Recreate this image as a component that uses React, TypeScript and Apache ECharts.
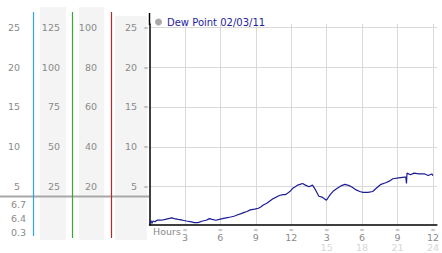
import React, { useEffect, useRef } from "react";
import * as echarts from "echarts";

// ---- data ----
const seriesName = "Dew Point 02/03/11";
const hours = [
  0.0, 0.1, 0.2, 0.3, 0.45, 0.64, 1.0, 1.33, 1.6, 1.89, 2.1, 2.43, 2.8, 3.13, 3.55, 3.8, 4.1, 4.5, 4.8,
  5.07, 5.3, 5.62, 5.9, 6.17, 6.5, 6.87, 7.15, 7.42, 7.7, 7.97, 8.25, 8.53, 8.9, 9.22, 9.45, 9.63, 9.9,
  10.19, 10.45, 10.74, 11.0, 11.3, 11.5, 11.71, 11.95, 12.13, 12.35, 12.54, 12.75, 12.96, 13.2, 13.5,
  13.8, 14.06, 14.34, 14.6, 14.8, 14.98, 15.3, 15.6, 15.9, 16.2, 16.55, 16.97, 17.2, 17.5, 17.8, 18.08,
  18.5, 18.9, 19.2, 19.6, 20.0, 20.3, 20.6, 21.1, 21.6, 21.7, 21.76, 21.8, 22.1, 22.4, 22.8, 23.3, 23.6,
  23.9, 24.0,
];
const dew = [
  0.3, 0.8, 0.4, 0.7, 0.6, 0.8, 0.8, 0.9, 1.0, 1.1, 1.0, 0.9, 0.8, 0.7, 0.6, 0.5, 0.5, 0.7, 0.8,
  1.0, 0.9, 0.8, 0.9, 1.0, 1.1, 1.2, 1.3, 1.45, 1.6, 1.75, 1.9, 2.1, 2.2, 2.3, 2.5, 2.7, 2.9,
  3.2, 3.5, 3.7, 3.9, 4.0, 4.0, 4.2, 4.5, 4.8, 5.0, 5.2, 5.3, 5.4, 5.2, 5.0,
  5.2, 4.6, 3.8, 3.7, 3.5, 3.3, 4.0, 4.5, 4.8, 5.1, 5.3, 5.1, 4.9, 4.6, 4.4, 4.3,
  4.3, 4.4, 4.8, 5.3, 5.5, 5.7, 6.0, 6.1, 6.2, 6.2, 5.4, 6.7, 6.5, 6.7, 6.6, 6.6, 6.4,
  6.6, 6.4,
];
const yTicks = [5, 10, 15, 20, 25];
const col1Labels = ["5", "10", "15", "20", "25"];
const col2Labels = ["25", "50", "75", "100", "125"];
const col3Labels = ["20", "40", "60", "80", "100"];
const col4Labels = ["5", "10", "15", "20", "25"];
const xTicks = [3, 6, 9, 12, 15, 18, 21, 24];
const xTopLabels = ["3", "6", "9", "12", "3", "6", "9", "12"];
const xBottomLabels = ["", "", "", "", "15", "18", "21", "24"];
const stats = ["6.7", "6.4", "0.3"];
const hoursLabel = "Hours";
const mark = "≈";

const FONT = "DejaVu Sans";
const LABEL_COLOR = "#8a8a8a";
const GRID_COLOR = "#d9d9d9";

function labelAxis(offset: number, labels: string[], margin = 0) {
  return {
    type: "value",
    position: "left",
    offset,
    min: 0.2,
    max: 25.4,
    axisLine: { show: false },
    axisTick: { show: false },
    splitLine: { show: false },
    axisLabel: {
      customValues: yTicks,
      margin,
      color: LABEL_COLOR,
      fontSize: 9.5,
      fontFamily: FONT,
      formatter: (v: number) => {
        const i = yTicks.indexOf(Math.round(v));
        return i >= 0 ? labels[i] : "";
      },
    },
  };
}

export default function App() {
  const ref = useRef<HTMLDivElement>(null);
  useEffect(() => {
    if (!ref.current) return;
    const chart = echarts.init(ref.current, undefined, { renderer: "svg" });
    const data = hours.map((h, i) => [h, dew[i]]);
    const option: any = {
      animation: false,
      backgroundColor: "#ffffff",
      textStyle: { fontFamily: FONT },
      grid: { left: 149.5, right: 0, top: 24, bottom: 28, containLabel: false },
      legend: {
        left: 155,
        top: 17,
        padding: 0,
        icon: "circle",
        itemWidth: 7,
        itemHeight: 7,
        itemGap: 4,
        selectedMode: false,
        itemStyle: { color: "#aaaaaa" },
        textStyle: { color: "#1e1e9c", fontSize: 10, fontFamily: FONT },
        data: [seriesName],
      },
      xAxis: {
        type: "value",
        min: 0,
        max: 24.333,
        axisLine: { show: true, lineStyle: { color: "#000", width: 1.5 } },
        axisTick: { show: false, customValues: xTicks },
        splitLine: { show: true, lineStyle: { color: GRID_COLOR, width: 1 } },
        axisLabel: {
          customValues: xTicks,
          margin: 1,
          fontFamily: FONT,
          formatter: (v: number) => {
            const i = xTicks.indexOf(Math.round(v));
            if (i < 0) return "";
            const b = xBottomLabels[i];
            return `{m|${mark}}\n{a|${xTopLabels[i]}}` + (b ? `\n{b|${b}}` : "");
          },
          rich: {
            m: { fontSize: 6, lineHeight: 6, color: "#9a9a9a", fontFamily: FONT },
            a: { fontSize: 9.5, lineHeight: 10, color: LABEL_COLOR, fontFamily: FONT },
            b: { fontSize: 9.5, lineHeight: 10, color: "#d6d6d6", fontFamily: FONT },
          },
        },
      },
      yAxis: [
        {
          type: "value",
          position: "left",
          min: 0.2,
          max: 25.4,
          axisLine: { show: true, lineStyle: { color: "#000", width: 1.5 } },
          axisTick: { show: false, customValues: yTicks },
          splitLine: { show: true, lineStyle: { color: GRID_COLOR, width: 1 } },
          axisLabel: {
            customValues: yTicks,
            margin: 12.5,
            color: LABEL_COLOR,
            fontSize: 9.5,
            fontFamily: FONT,
            formatter: (v: number) => {
              const i = yTicks.indexOf(Math.round(v));
              return i >= 0 ? col4Labels[i] : "";
            },
          },
        },
        {
          ...labelAxis(0, yTicks.map(() => mark), 1),
          axisLabel: {
            customValues: yTicks,
            margin: 1,
            color: "#9a9a9a",
            fontSize: 6,
            fontFamily: FONT,
            formatter: () => mark,
          },
        },
        labelAxis(52.5, col3Labels),
        labelAxis(89.5, col2Labels),
        labelAxis(129.5, col1Labels),
      ],
      series: [
        {
          name: seriesName,
          type: "line",
          data,
          showSymbol: false,
          symbol: "none",
          lineStyle: { color: "#1c1c96", width: 1.2 },
          itemStyle: { color: "#1c1c96" },
          z: 5,
        },
      ],
      graphic: [
        { type: "rect", z: 0, silent: true, shape: { x: 40, y: 7, width: 26, height: 233 }, style: { fill: "#f4f4f4" } },
        { type: "rect", z: 0, silent: true, shape: { x: 79, y: 7, width: 25, height: 233 }, style: { fill: "#f4f4f4" } },
        { type: "rect", z: 0, silent: true, shape: { x: 115, y: 16, width: 32, height: 224 }, style: { fill: "#f4f4f4" } },
        { type: "line", z: 1, silent: true, shape: { x1: 0, y1: 196.5, x2: 149, y2: 196.5 }, style: { stroke: "#a8a8a8", lineWidth: 2 } },
        { type: "line", z: 2, silent: true, shape: { x1: 33.5, y1: 12, x2: 33.5, y2: 236 }, style: { stroke: "#2fa6d6", lineWidth: 1.2 } },
        { type: "line", z: 2, silent: true, shape: { x1: 72.5, y1: 12, x2: 72.5, y2: 238 }, style: { stroke: "#35aa35", lineWidth: 1.2 } },
        { type: "line", z: 2, silent: true, shape: { x1: 111.5, y1: 12, x2: 111.5, y2: 238 }, style: { stroke: "#b52828", lineWidth: 1.2 } },
        { type: "line", z: 2, silent: true, shape: { x1: 149.5, y1: 13, x2: 149.5, y2: 25 }, style: { stroke: "#000", lineWidth: 1.5 } },
        ...stats.map((s, i) => ({
          type: "text",
          z: 3,
          silent: true,
          x: 26,
          y: 204.5 + i * 13.8,
          style: { text: s, fill: LABEL_COLOR, font: `9.5px '${FONT}'`, textAlign: "right", textVerticalAlign: "middle" },
        })),
        {
          type: "text",
          z: 3,
          silent: true,
          x: 153,
          y: 231.5,
          style: { text: hoursLabel, fill: LABEL_COLOR, font: `9.5px '${FONT}'`, textAlign: "left", textVerticalAlign: "middle" },
        },
      ],
    };
    chart.setOption(option);
    return () => chart.dispose();
  }, []);
  return (
    <div
      ref={ref}
      style={{ position: "fixed", left: 0, top: 0, width: 442, height: 253, background: "#fff" }}
    />
  );
}
